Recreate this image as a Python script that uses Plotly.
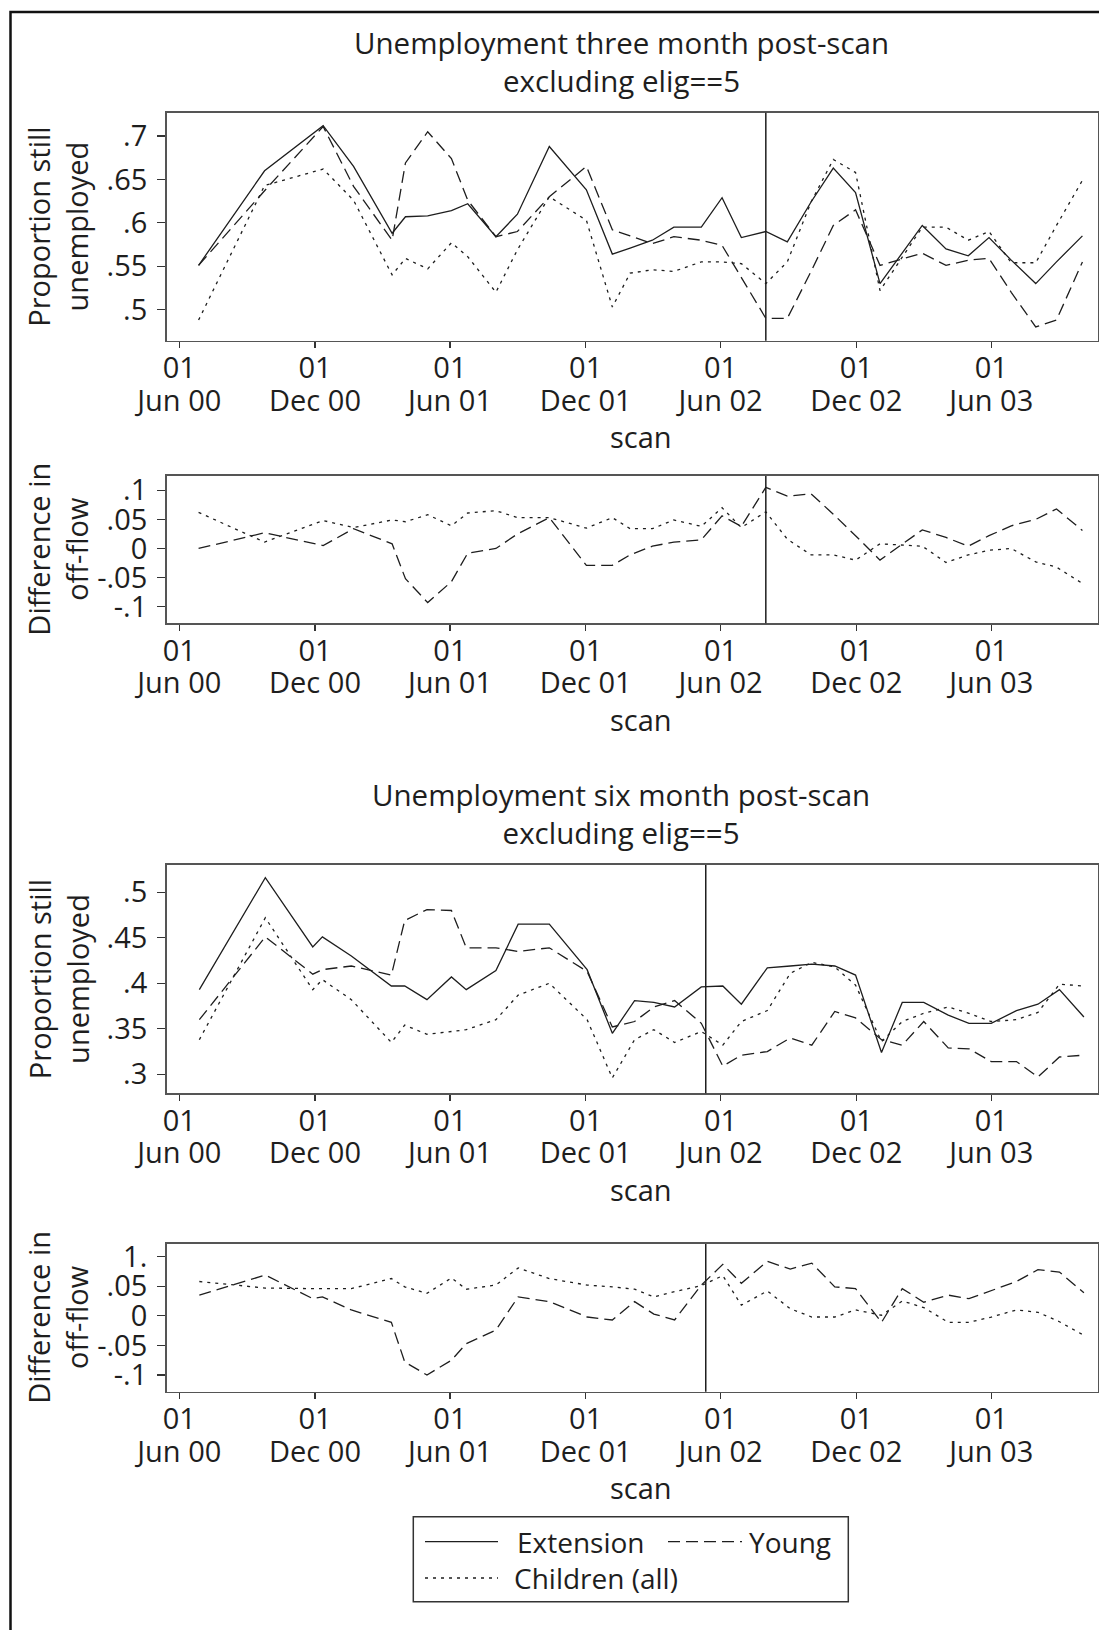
import plotly.graph_objects as go

W, H = 1099, 1630
FONT = "Open Sans"
INK = "#1e1e1e"

# ---------------- data ----------------
dates_3m = ['2000-06-27', '2000-09-24', '2000-12-12', '2001-01-22', '2001-03-15', '2001-04-02',
            '2001-05-02', '2001-06-03', '2001-06-25', '2001-08-02', '2001-08-31', '2001-10-13',
            '2001-12-02', '2002-01-06', '2002-01-30', '2002-03-01', '2002-03-30', '2002-05-06',
            '2002-06-03', '2002-06-29', '2002-08-01', '2002-08-30', '2002-10-01', '2002-10-31',
            '2002-11-30', '2003-01-02', '2003-02-28', '2003-04-01', '2003-05-01', '2003-05-29',
            '2003-06-28', '2003-07-31', '2003-08-28', '2003-10-02']

ext_3m = [0.551, 0.660, 0.712, 0.665, 0.588, 0.607, 0.608, 0.614, 0.622, 0.584, 0.610, 0.688,
          0.638, 0.564, 0.571, 0.580, 0.595, 0.595, 0.629, 0.583, 0.590, 0.578, 0.624, 0.663,
          0.635, 0.530, 0.597, 0.570, 0.562, 0.583, 0.557, 0.530, 0.555, 0.585]
young_3m = [0.551, 0.637, 0.711, 0.642, 0.580, 0.669, 0.705, 0.674, 0.626, 0.584, 0.590, 0.630,
            0.665, 0.592, 0.585, 0.576, 0.584, 0.580, 0.574, 0.537, 0.490, 0.490, 0.544, 0.597,
            0.615, 0.551, 0.565, 0.551, 0.557, 0.559, 0.520, 0.480, 0.488, 0.555]
child_3m = [0.488, 0.643, 0.662, 0.626, 0.540, 0.559, 0.547, 0.577, 0.561, 0.520, 0.569, 0.630,
            0.603, 0.503, 0.542, 0.546, 0.544, 0.555, 0.555, 0.553, 0.530, 0.555, 0.624, 0.673,
            0.658, 0.522, 0.595, 0.595, 0.580, 0.590, 0.554, 0.554, 0.597, 0.649]

dyoung_3m = [0.000, 0.027, 0.005, 0.034, 0.008, -0.052, -0.093, -0.057, -0.008, 0.000, 0.025, 0.053,
             -0.029, -0.029, -0.011, 0.004, 0.011, 0.015, 0.056, 0.038, 0.105, 0.090, 0.094, 0.059,
             0.022, -0.020, 0.032, 0.019, 0.004, 0.022, 0.039, 0.050, 0.068, 0.031]
dchild_3m = [0.062, 0.011, 0.048, 0.036, 0.049, 0.046, 0.058, 0.039, 0.061, 0.065, 0.053, 0.053,
             0.035, 0.053, 0.034, 0.034, 0.049, 0.038, 0.070, 0.036, 0.063, 0.016, -0.011, -0.011,
             -0.020, 0.008, 0.004, -0.024, -0.011, -0.003, 0.000, -0.023, -0.032, -0.060]

dates_6m = ['2000-06-28', '2000-09-25', '2000-11-28', '2000-12-11', '2001-01-19', '2001-03-14',
            '2001-04-01', '2001-05-01', '2001-06-03', '2001-06-23', '2001-08-02', '2001-09-01',
            '2001-10-13', '2001-12-03', '2002-01-06', '2002-02-05', '2002-03-03', '2002-03-31',
            '2002-05-06', '2002-06-04', '2002-06-29', '2002-08-03', '2002-09-03', '2002-10-02',
            '2002-11-02', '2002-11-30', '2003-01-04', '2003-02-01', '2003-03-02', '2003-04-04',
            '2003-05-02', '2003-06-01', '2003-07-05', '2003-08-03', '2003-09-01', '2003-10-04']

ext_6m = [0.393, 0.516, 0.440, 0.451, 0.430, 0.397, 0.397, 0.382, 0.407, 0.393, 0.414, 0.465,
          0.465, 0.415, 0.345, 0.381, 0.379, 0.374, 0.396, 0.397, 0.377, 0.417, 0.419, 0.421,
          0.419, 0.409, 0.324, 0.379, 0.379, 0.365, 0.356, 0.356, 0.370, 0.377, 0.393, 0.363]
young_6m = [0.360, 0.451, 0.410, 0.415, 0.419, 0.409, 0.469, 0.481, 0.480, 0.439, 0.439, 0.435,
            0.439, 0.413, 0.352, 0.358, 0.374, 0.381, 0.356, 0.309, 0.321, 0.325, 0.340, 0.332,
            0.369, 0.362, 0.338, 0.332, 0.358, 0.329, 0.328, 0.314, 0.314, 0.297, 0.319, 0.321]
child_6m = [0.338, 0.472, 0.393, 0.404, 0.382, 0.335, 0.354, 0.344, 0.347, 0.349, 0.360, 0.387,
            0.400, 0.360, 0.296, 0.338, 0.349, 0.335, 0.347, 0.332, 0.358, 0.370, 0.411, 0.423,
            0.418, 0.398, 0.336, 0.358, 0.367, 0.374, 0.367, 0.358, 0.360, 0.368, 0.399, 0.397]

dyoung_6m = [0.035, 0.069, 0.029, 0.032, 0.010, -0.011, -0.078, -0.100, -0.075, -0.047, -0.024, 0.032,
             0.024, -0.002, -0.007, 0.024, 0.003, -0.007, 0.052, 0.087, 0.055, 0.092, 0.079, 0.089,
             0.049, 0.046, -0.011, 0.046, 0.023, 0.035, 0.029, 0.043, 0.058, 0.078, 0.074, 0.039]
dchild_6m = [0.058, 0.047, 0.046, 0.046, 0.046, 0.063, 0.049, 0.038, 0.064, 0.045, 0.052, 0.081,
             0.063, 0.052, 0.049, 0.045, 0.032, 0.041, 0.051, 0.068, 0.018, 0.042, 0.012, -0.002,
             -0.002, 0.010, 0.001, 0.025, 0.014, -0.011, -0.011, -0.002, 0.010, 0.006, -0.010, -0.033]

break_3m = '2002-08-01'
break_6m = '2002-05-12'

x_tickvals = ['2000-06-01', '2000-12-01', '2001-06-01', '2001-12-01', '2002-06-01', '2002-12-01', '2003-06-01']
x_tick_day = ['01', '01', '01', '01', '01', '01', '01']
x_tick_month = ['Jun 00', 'Dec 00', 'Jun 01', 'Dec 01', 'Jun 02', 'Dec 02', 'Jun 03']

y_lvl3_vals = [0.5, 0.55, 0.6, 0.65, 0.7]
y_lvl3_text = ['.5', '.55', '.6', '.65', '.7']
y_lvl6_vals = [0.3, 0.35, 0.4, 0.45, 0.5]
y_lvl6_text = ['.3', '.35', '.4', '.45', '.5']
y_d3_vals = [-0.1, -0.05, 0, 0.05, 0.1]
y_d3_text = ['-.1', '-.05', '0', '.05', '.1']
y_d6_vals = [-0.1, -0.05, 0, 0.05, 0.1]
y_d6_text = ['-.1', '-.05', '0', '.05', '1.']

series_names = ['Extension', 'Young', 'Children (all)']

# ---------------- styles ----------------
DASH = {'Extension': 'solid', 'Young': '12px,6px', 'Children (all)': '3px,5px'}


def px_x(p):
    return p / W


def px_y(p):
    return 1 - p / H


X0, X1 = 166.7, 1098.0
panels = [  # (top px, bottom px, y-range)
    (112.7, 340.7, [0.4642, 0.7269]),
    (476.0, 623.3, [-0.1286, 0.1246]),
    (865.0, 1093.3, [0.2791, 0.5300]),
    (1244.0, 1391.7, [-0.1282, 0.1214]),
]
x_range = ['2000-05-15', '2003-10-23']

fig = go.Figure()


def ax_names(i):
    return ('x' if i == 0 else f'x{i + 1}'), ('y' if i == 0 else f'y{i + 1}')


def add_line(i, xs, ys, name):
    xa, ya = ax_names(i)
    fig.add_trace(go.Scatter(
        x=xs, y=ys, mode='lines', name=name, showlegend=False,
        line=dict(color=INK, width=1.3, dash=DASH[name]), xaxis=xa, yaxis=ya))


add_line(0, dates_3m, ext_3m, 'Extension')
add_line(0, dates_3m, young_3m, 'Young')
add_line(0, dates_3m, child_3m, 'Children (all)')
add_line(1, dates_3m, dyoung_3m, 'Young')
add_line(1, dates_3m, dchild_3m, 'Children (all)')
add_line(2, dates_6m, ext_6m, 'Extension')
add_line(2, dates_6m, young_6m, 'Young')
add_line(2, dates_6m, child_6m, 'Children (all)')
add_line(3, dates_6m, dyoung_6m, 'Young')
add_line(3, dates_6m, dchild_6m, 'Children (all)')

# empty carrier traces so the overlaying month-label axes get drawn
for i in range(4):
    _, ya = ax_names(i)
    fig.add_trace(go.Scatter(x=[], y=[], mode='lines', showlegend=False, hoverinfo='skip',
                             xaxis=f'x{i + 5}', yaxis=ya))

tick_font = dict(family=FONT, size=29, color=INK)
ytick_sets = [(y_lvl3_vals, y_lvl3_text), (y_d3_vals, y_d3_text),
              (y_lvl6_vals, y_lvl6_text), (y_d6_vals, y_d6_text)]

layout = dict(
    width=W, height=H, margin=dict(l=0, r=0, t=0, b=0, autoexpand=False),
    paper_bgcolor='white', plot_bgcolor='white', showlegend=False,
    font=dict(family=FONT, size=29, color=INK),
)
for i, (top, bot, yr) in enumerate(panels):
    xa, ya = ax_names(i)
    xs = 'xaxis' if i == 0 else f'xaxis{i + 1}'
    ys = 'yaxis' if i == 0 else f'yaxis{i + 1}'
    layout[xs] = dict(
        type='date', range=x_range, domain=[px_x(X0), px_x(X1)], anchor=ya,
        tickmode='array', tickvals=x_tickvals, ticktext=x_tick_day, automargin=False,
        showgrid=False, zeroline=False, showline=True, mirror=True,
        linecolor='#555555', linewidth=1.6, ticks='outside', ticklen=6, tickwidth=1.3,
        tickcolor='#333333', tickfont=tick_font, ticklabelstandoff=-5, fixedrange=True)
    # second row of date labels (month / year) on an overlaying axis
    layout[f'xaxis{i + 5}'] = dict(
        type='date', range=x_range, domain=[px_x(X0), px_x(X1)], anchor=ya, overlaying=xa,
        side='bottom', tickmode='array', tickvals=x_tickvals, ticktext=x_tick_month,
        automargin=False, showgrid=False, zeroline=False, showline=False,
        ticks='outside', ticklen=6, tickcolor='rgba(0,0,0,0)', tickfont=tick_font,
        ticklabelstandoff=28, fixedrange=True)
    layout[ys] = dict(
        range=yr, domain=[px_y(bot), px_y(top)], anchor=xa, automargin=False,
        tickmode='array', tickvals=ytick_sets[i][0], ticktext=ytick_sets[i][1],
        showgrid=False, zeroline=False, showline=True, mirror=True,
        linecolor='#555555', linewidth=1.6, ticks='outside', ticklen=8, tickwidth=1.3,
        tickcolor='#333333', tickfont=tick_font, ticklabelstandoff=4, fixedrange=True)
fig.update_layout(**layout)

# vertical reference lines
for i, bd in enumerate([break_3m, break_3m, break_6m, break_6m]):
    xa, ya = ax_names(i)
    fig.add_shape(type='line', xref=xa, yref=ya + ' domain',
                  x0=bd, x1=bd, y0=0, y1=1, line=dict(color=INK, width=1.5))

# outer frame
fig.add_shape(type='rect', xref='paper', yref='paper', x0=px_x(10.5), x1=1.05,
              y0=-0.05, y1=px_y(12), line=dict(color='#111111', width=2.5))


def ann(text, xp, yp, angle=0, size=29, xanchor='center'):
    fig.add_annotation(text=text, x=px_x(xp), y=px_y(yp), xref='paper', yref='paper',
                       showarrow=False, textangle=angle, xanchor=xanchor, yanchor='middle',
                       font=dict(family=FONT, size=size, color=INK))


ann('Unemployment three month post-scan<br>excluding elig==5', 621, 61, size=29.5)
ann('Unemployment six month post-scan<br>excluding elig==5', 621, 813, size=29.5)
for i, (top, bot, yr) in enumerate(panels):
    ytitle = 'Proportion still<br>unemployed' if i in (0, 2) else 'Difference in<br>off-flow'
    ann(ytitle, 58, (top + bot) / 2, angle=-90)
    ann('scan', 641, bot + 96)

# legend (manual key box)
fig.add_shape(type='rect', xref='paper', yref='paper', x0=px_x(413.3), x1=px_x(848.3),
              y0=px_y(1601.7), y1=px_y(1516.7), line=dict(color='#333333', width=1.5))
key_items = [('Extension', 425, 498, 1541.7, 515), ('Young', 668, 742, 1541.7, 747),
             ('Children (all)', 425, 498, 1578, 512)]
for name, xa, xb, yy, tx in key_items:
    fig.add_shape(type='line', xref='paper', yref='paper', x0=px_x(xa), x1=px_x(xb),
                  y0=px_y(yy), y1=px_y(yy), line=dict(color=INK, width=1.3, dash=DASH[name]))
    ann(name, tx, yy, size=28, xanchor='left')

fig.write_html('out.html', config={'displayModeBar': False, 'staticPlot': True},
               post_script="document.body.style.margin='0px';"
                           "document.body.style.overflow='hidden';")
